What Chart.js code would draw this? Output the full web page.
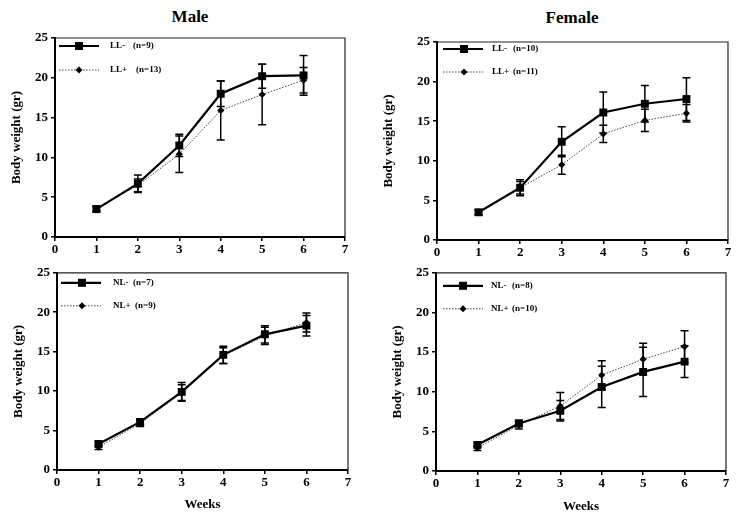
<!DOCTYPE html>
<html><head><meta charset="utf-8">
<script src="https://cdn.jsdelivr.net/npm/chart.js@4.4.1/dist/chart.umd.min.js"></script>
<style>
body{margin:0;background:#fff;width:739px;height:523px;position:relative;overflow:hidden}
canvas{position:absolute}
.ttl{position:absolute;font:bold 17px 'Liberation Serif','Times New Roman',serif;line-height:20px;color:#000;transform:translateX(-50%);white-space:nowrap}
</style></head><body>
<div class="ttl" style="left:190px;top:7px">Male</div>
<div class="ttl" style="left:572px;top:8px">Female</div>
<canvas id="c1" width="370" height="262" style="left:0;top:0;width:370px;height:262px"></canvas>
<canvas id="c2" width="369" height="262" style="left:370px;top:0;width:369px;height:262px"></canvas>
<canvas id="c3" width="370" height="261" style="left:0;top:262px;width:370px;height:261px"></canvas>
<canvas id="c4" width="369" height="261" style="left:370px;top:262px;width:369px;height:261px"></canvas>
<script>
// ---- data ----
const weeks = [1, 2, 3, 4, 5, 6];
const xTicks = [0, 1, 2, 3, 4, 5, 6, 7];
const yTicks = [0, 5, 10, 15, 20, 25];

const maleLLminus     = [3.5, 6.7, 11.5, 18.0, 20.2, 20.3];
const maleLLminusErr  = [0.3, 1.1, 1.4, 1.6, 1.5, 2.5];
const maleLLplus      = [3.6, 6.5, 10.4, 15.9, 17.9, 19.7];
const maleLLplusErr   = [0.3, 0.8, 2.3, 3.7, 3.8, 1.6];

const femaleLLminus    = [3.5, 6.6, 12.4, 16.1, 17.2, 17.8];
const femaleLLminusErr = [0.3, 1.0, 1.9, 2.6, 2.3, 2.7];
const femaleLLplus     = [3.5, 6.6, 9.5, 13.4, 15.1, 16.0];
const femaleLLplusErr  = [0.3, 0.8, 1.2, 1.1, 1.4, 1.1];

const maleNLminus     = [3.3, 6.1, 9.9, 14.6, 17.2, 18.3];
const maleNLminusErr  = [0.3, 0.4, 1.2, 1.1, 1.1, 1.3];
const maleNLplus      = [2.9, 5.9, 9.8, 14.5, 17.0, 18.7];
const maleNLplusErr   = [0.3, 0.4, 1.0, 1.0, 1.1, 1.2];

const femaleNLminus    = [3.3, 6.0, 7.6, 10.6, 12.5, 13.8];
const femaleNLminusErr = [0.3, 0.4, 1.3, 2.6, 3.1, 2.0];
const femaleNLplus     = [2.9, 5.8, 8.2, 12.1, 14.1, 15.7];
const femaleNLplusErr  = [0.3, 0.5, 1.7, 1.8, 2.0, 2.0];

const seriesNames = [['LL-', 'LL+'], ['LL-', 'LL+'], ['NL-', 'NL+'], ['NL-', 'NL+']];
const groupSizes  = [['(n=9)', '(n=13)'], ['(n=10)', '(n=11)'], ['(n=7)', '(n=9)'], ['(n=8)', '(n=10)']];
const yTitle = 'Body weight (gr)';
const xTitle = 'Weeks';

// ---- helpers ----
const SERIF = "'Liberation Serif','Times New Roman',serif";
const pts = arr => weeks.map((w, i) => ({x: w, y: arr[i]}));

const errorBars = {
  id: 'errorBars',
  beforeDatasetsDraw(chart) {
    const {ctx, scales: {x, y}} = chart;
    ctx.save();
    ctx.strokeStyle = '#000';
    ctx.lineWidth = 1.5;
    chart.data.datasets.forEach(ds => {
      ds.data.forEach((p, i) => {
        const e = ds.err[i];
        const px = x.getPixelForValue(p.x);
        const y1 = y.getPixelForValue(p.y + e), y2 = y.getPixelForValue(p.y - e);
        ctx.beginPath();
        ctx.moveTo(px, y1); ctx.lineTo(px, y2);
        ctx.moveTo(px - 4, y1); ctx.lineTo(px + 4, y1);
        ctx.moveTo(px - 4, y2); ctx.lineTo(px + 4, y2);
        ctx.stroke();
      });
    });
    ctx.restore();
  }
};

const frame = {
  id: 'frame',
  afterDraw(chart) {
    const {ctx, chartArea: a} = chart;
    ctx.save();
    ctx.strokeStyle = '#222';
    ctx.lineWidth = 1.2;
    ctx.beginPath();
    ctx.moveTo(a.left, a.top); ctx.lineTo(a.right, a.top); ctx.lineTo(a.right, a.bottom);
    ctx.stroke();
    ctx.restore();
  }
};

const insideLegend = {
  id: 'insideLegend',
  afterDraw(chart, args, o) {
    const {ctx, chartArea: a} = chart;
    ctx.save();
    chart.data.datasets.forEach((ds, i) => {
      const yy = a.top + o.rows[i];
      ctx.strokeStyle = ds.borderColor;
      ctx.lineWidth = ds.borderWidth;
      ctx.setLineDash(ds.borderDash || []);
      ctx.beginPath();
      ctx.moveTo(a.left + o.x0, yy); ctx.lineTo(a.left + o.x1, yy);
      ctx.stroke();
      ctx.setLineDash([]);
      ctx.fillStyle = '#000';
      const mx = a.left + o.mx;
      if (i === 0) {
        ctx.fillRect(mx - 4, yy - 4, 8, 8);
      } else {
        ctx.beginPath();
        ctx.moveTo(mx, yy - 3.5); ctx.lineTo(mx + 3.5, yy); ctx.lineTo(mx, yy + 3.5); ctx.lineTo(mx - 3.5, yy);
        ctx.closePath(); ctx.fill();
      }
      ctx.font = 'bold 9px ' + SERIF;
      ctx.textBaseline = 'middle';
      ctx.textAlign = 'left';
      ctx.fillText(ds.label, a.left + o.tx, yy);
      ctx.fillText(ds.nLabel, a.left + o.cx[i], yy);
    });
    ctx.restore();
  }
};

function makePanel(id, idx, minus, minusErr, plus, plusErr, L) {
  const showX = L.xTitle;
  new Chart(document.getElementById(id), {
    type: 'line',
    data: {
      datasets: [
        {label: seriesNames[idx][0], nLabel: groupSizes[idx][0], data: pts(minus), err: minusErr,
         borderColor: '#000', borderWidth: 2.2, pointStyle: 'rect', pointRadius: 5.6,
         pointBackgroundColor: '#000', pointBorderColor: '#000', pointBorderWidth: 0, tension: 0, order: 0},
        {label: seriesNames[idx][1], nLabel: groupSizes[idx][1], data: pts(plus), err: plusErr,
         borderColor: '#444', borderWidth: 1, borderDash: [1.5, 1.5], pointStyle: 'rectRot', pointRadius: 3.6,
         pointBackgroundColor: '#000', pointBorderColor: '#000', pointBorderWidth: 0, tension: 0, order: 1}
      ]
    },
    options: {
      responsive: false, animation: false, devicePixelRatio: 1,
      layout: {padding: {left: 0, top: L.top, right: L.right, bottom: 0}},
      plugins: {
        legend: {display: false}, tooltip: {enabled: false}, title: {display: false},
        insideLegend: L.legend
      },
      scales: {
        x: {
          type: 'linear', min: 0, max: 7,
          afterBuildTicks: s => { s.ticks = xTicks.map(v => ({value: v})); },
          afterFit: s => { s.height = L.xH; },
          grid: {display: true, drawOnChartArea: false, drawTicks: true, tickLength: 4, color: '#000', lineWidth: 1.5},
          border: {display: true, color: '#000', width: 2},
          ticks: {color: '#000', font: {family: SERIF, size: 13, weight: 'bold'}, padding: 1, maxRotation: 0, autoSkip: false},
          title: {display: showX, text: xTitle, color: '#000', font: {family: SERIF, size: 13, weight: 'bold'},
                  padding: {top: 0, bottom: L.xTitlePad || 0}}
        },
        y: {
          type: 'linear', min: 0, max: 25,
          afterBuildTicks: s => { s.ticks = yTicks.map(v => ({value: v})); },
          afterFit: s => { s.width = L.yW; },
          grid: {display: true, drawOnChartArea: false, drawTicks: true, tickLength: 4, color: '#000', lineWidth: 1.5},
          border: {display: true, color: '#000', width: 2},
          ticks: {color: '#000', font: {family: SERIF, size: 13, weight: 'bold'}, padding: 3},
          title: {display: true, text: yTitle, color: '#000', font: {family: SERIF, size: 13, weight: 'bold'},
                  padding: {top: L.yTitlePad, bottom: 0}}
        }
      }
    },
    plugins: [errorBars, frame, insideLegend]
  });
}

makePanel('c1', 0, maleLLminus, maleLLminusErr, maleLLplus, maleLLplusErr,
  {top: 38, right: 25, yW: 55, xH: 25, yTitlePad: 9.2,
   legend: {x0: 4, x1: 44, mx: 24, tx: 55, cx: [78, 81], rows: [8, 32]}});
makePanel('c2', 1, femaleLLminus, femaleLLminusErr, femaleLLplus, femaleLLplusErr,
  {top: 42, right: 11, yW: 67, xH: 22, yTitlePad: 11.2,
   legend: {x0: 6, x1: 46, mx: 27, tx: 55, cx: [76, 76], rows: [7, 30]}});
makePanel('c3', 2, maleNLminus, maleNLminusErr, maleNLplus, maleNLplusErr,
  {top: 9, right: 22, yW: 57, xH: 53, yTitlePad: 10.5, xTitle: true, xTitlePad: 10.2,
   legend: {x0: 4, x1: 44, mx: 25, tx: 56, cx: [76, 78], rows: [10, 33]}});
makePanel('c4', 3, femaleNLminus, femaleNLminusErr, femaleNLplus, femaleNLplusErr,
  {top: 10, right: 13, yW: 66, xH: 52, yTitlePad: 19.9, xTitle: true, xTitlePad: 8.2,
   legend: {x0: 7, x1: 47, mx: 27, tx: 55, cx: [76, 76], rows: [13, 36]}});
</script>
</body></html>
